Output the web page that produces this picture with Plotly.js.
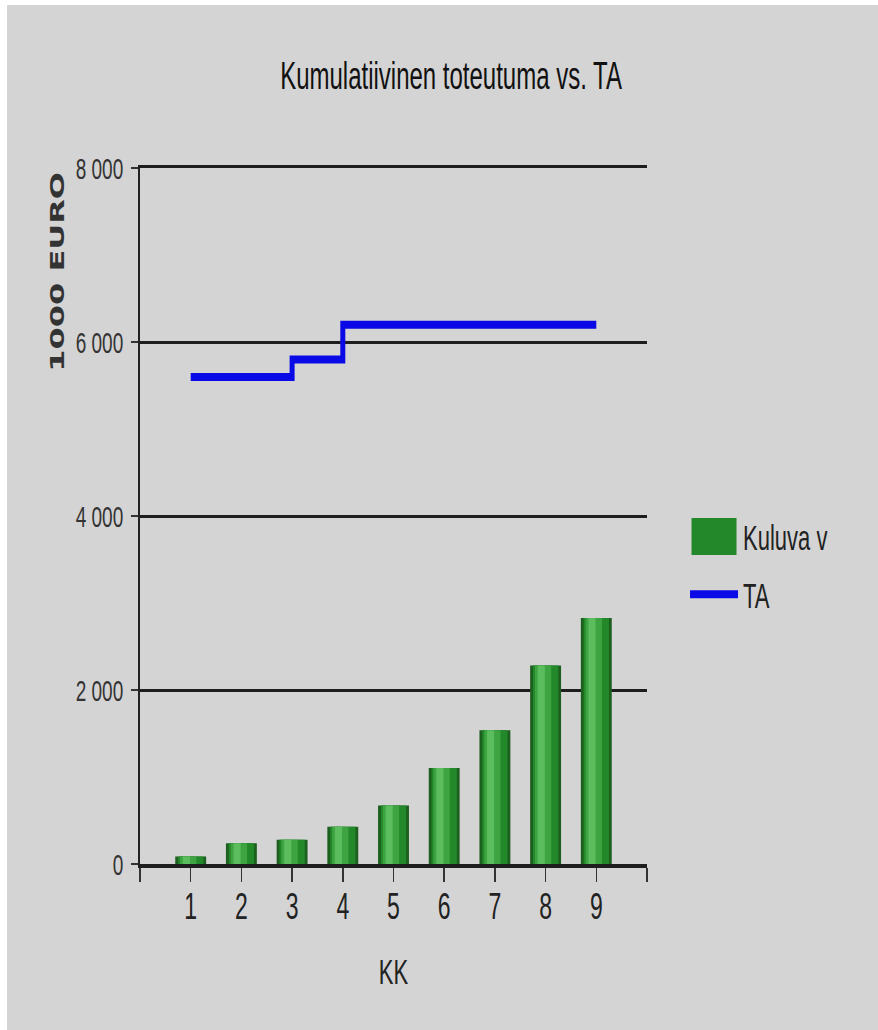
<!DOCTYPE html>
<html>
<head>
<meta charset="utf-8">
<script src="https://cdn.plot.ly/plotly-3.0.1.min.js"></script>
<style>
  html, body { margin: 0; padding: 0; background: #ffffff; width: 878px; height: 1030px; overflow: hidden; }
  #chart { position: absolute; left: 7px; top: 5px; width: 871px; height: 640.6px;
           transform: scaleY(1.6); transform-origin: 0 0; }
</style>
</head>
<body>
<div id="chart"></div>
<script>
// ---- data ----
const months = [1, 2, 3, 4, 5, 6, 7, 8, 9];
const kuluva = [90, 240, 280, 430, 675, 1105, 1540, 2285, 2830];
const ta = [5600, 5600, 5800, 6200, 6200, 6200, 6200, 6200, 6200];
const xTickVals = [0, 1, 2, 3, 4, 5, 6, 7, 8, 9, 10];
const xTickText = ['', '1', '2', '3', '4', '5', '6', '7', '8', '9', ''];
const yTickVals = [0, 2000, 4000, 6000, 8000];
const yTickText = ['0', '2 000', '4 000', '6 000', '8 000'];

const FONT = 'Liberation Sans, Arial, sans-serif';

// cylinder-like shading built from stacked overlay bars of the same data
const shades = [
  { w: 0.61, s: 0.000, c: '#1d5f1f', legend: false },
  { w: 0.50, s: 0.000, c: '#23882a', legend: true },
  { w: 0.32, s: -0.050, c: '#3ea441', legend: false },
  { w: 0.14, s: -0.085, c: '#5bbd5d', legend: false }
];

const traces = shades.map(sh => ({
  type: 'bar',
  x: months,
  y: kuluva,
  width: sh.w,
  offset: -sh.w / 2 + sh.s,
  name: 'Kuluva v',
  legendgroup: 'kuluva',
  showlegend: sh.legend,
  marker: { color: sh.c, line: { width: 0 } },
  hoverinfo: 'skip'
}));

traces.push({
  type: 'scatter',
  mode: 'lines',
  x: months,
  y: ta,
  name: 'TA',
  legendgroup: 'ta',
  line: { color: '#0a0ae6', width: 5, shape: 'hv' }
});

const layout = {
  width: 871,
  height: 640.6,
  paper_bgcolor: '#d4d4d4',
  plot_bgcolor: '#d4d4d4',
  barmode: 'overlay',
  margin: { l: 133, r: 231, t: 101.9, b: 104.4, pad: 0 },
  font: { family: FONT, color: '#222' },
  title: {
    text: 'Kumulatiivinen toteutuma vs. TA',
    font: { family: FONT, size: 24, color: '#111' },
    xref: 'container', x: 0.5098, xanchor: 'center',
    yref: 'container', y: 0.931, yanchor: 'middle'
  },
  xaxis: {
    range: [0, 10],
    tickmode: 'array',
    tickvals: xTickVals,
    ticktext: xTickText,
    ticks: 'outside',
    ticklen: 8.75,
    tickwidth: 1.5,
    tickcolor: '#333',
    showgrid: false,
    zeroline: false,
    showline: true,
    mirror: true,
    linecolor: '#1e1e1e',
    linewidth: 2.2,
    tickfont: { family: FONT, size: 23, color: '#222' },
    ticklabelstandoff: -4,
    title: { text: 'KK', font: { family: FONT, size: 22, color: '#222' }, standoff: 21 },
    fixedrange: true
  },
  yaxis: {
    range: [0, 8000],
    tickmode: 'array',
    tickvals: yTickVals,
    ticktext: yTickText,
    ticks: 'outside',
    ticklen: 7,
    tickwidth: 1.5,
    tickcolor: '#333',
    showgrid: true,
    gridcolor: '#1e1e1e',
    gridwidth: 2,
    zeroline: false,
    showline: true,
    linecolor: '#222',
    linewidth: 2,
    tickfont: { family: FONT, size: 19, color: '#333' },
    ticklabelstandoff: 4,
    fixedrange: true
  },
  legend: {
    x: 1.075, xanchor: 'left',
    y: 0.429, yanchor: 'middle',
    bgcolor: 'rgba(0,0,0,0)',
    borderwidth: 0,
    traceorder: 'grouped',
    tracegroupgap: 4.5,
    font: { family: FONT, size: 22, color: '#222' },
    itemwidth: 48
  },
  annotations: [{
    text: '1000 EURO',
    textangle: -90,
    xref: 'paper', yref: 'paper',
    x: -0.1637, y: 0.850,
    xanchor: 'center', yanchor: 'middle',
    showarrow: false,
    font: { family: 'DejaVu Sans, sans-serif', size: 20, color: '#333', weight: 'bold' }
  }],
  showlegend: true
};

Plotly.newPlot('chart', traces, layout, { displayModeBar: false, staticPlot: true }).then(gd => {
  // enlarge the bar legend swatch to the wide block used in the original
  const items = gd.querySelectorAll('.legend .traces');
  if (items.length) {
    const p = items[0].querySelector('.legendpoints path');
    if (p) p.setAttribute('d', 'M22.5,11.5H-22.5V-11.5H22.5Z');
  }
});
</script>
</body>
</html>
